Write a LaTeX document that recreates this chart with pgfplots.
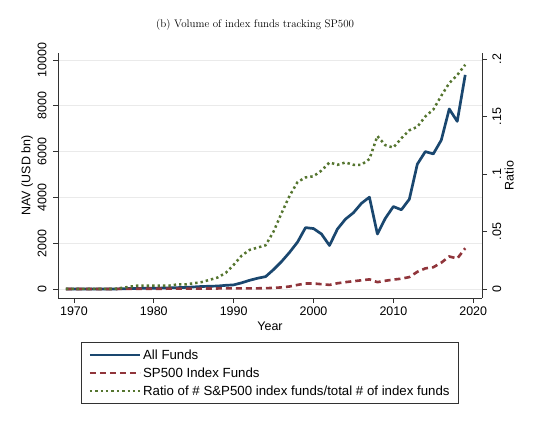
\documentclass[border=0pt]{standalone}
\usepackage{fontspec}
\usepackage{pgfplots}
\usepackage{pgfplotstable}
\pgfplotsset{compat=1.18}
\newfontfamily\arial{Liberation Sans}
\definecolor{snavy}{RGB}{26,71,111}
\definecolor{smaroon}{RGB}{144,53,59}
\definecolor{sgreen}{RGB}{85,117,47}
\definecolor{sgrid}{RGB}{234,234,234}
\definecolor{saxis}{RGB}{50,50,50}

\pgfplotstableread{
year all sp ratio
1969 0 0 0
1970 0 0 0
1971 0 0 0
1972 0 0 0
1973 0 0 0
1974 0 0 0
1975 0 0 0
1976 10 5 0.001
1977 20 8 0.002
1978 25 10 0.003
1979 30 10 0.003
1980 35 12 0.003
1981 40 12 0.003
1982 50 14 0.003
1983 60 15 0.004
1984 70 16 0.004
1985 90 18 0.005
1986 110 20 0.006
1987 120 22 0.008
1988 130 24 0.010
1989 160 25 0.014
1990 180 25 0.021
1991 270 28 0.029
1992 380 30 0.034
1993 470 30 0.036
1994 540 35 0.038
1995 850 50 0.050
1996 1200 70 0.066
1997 1600 110 0.081
1998 2050 180 0.093
1999 2680 240 0.097
2000 2640 240 0.098
2001 2400 210 0.103
2002 1900 180 0.110
2003 2620 250 0.108
2004 3050 300 0.110
2005 3330 340 0.108
2006 3740 380 0.108
2007 4010 420 0.113
2008 2400 300 0.133
2009 3090 360 0.125
2010 3600 410 0.123
2011 3460 450 0.131
2012 3920 520 0.138
2013 5450 750 0.141
2014 6000 900 0.150
2015 5900 950 0.156
2016 6500 1150 0.168
2017 7860 1420 0.179
2018 7320 1330 0.186
2019 9350 1780 0.195
}\data

\pgfplotsset{
  common/.style={
    at={(58bp,136bp)}, anchor=south west,
    scale only axis, width=424bp, height=245bp,
    xmin=1968, xmax=2021.1,
    axis line style={-, saxis, line width=0.8bp},
    tick align=outside, major tick length=5bp,
    tick style={saxis, line width=0.8bp},
    minor tick num=0,
    scaled ticks=false,
    font=\fontsize{12.5}{15}\arial,
    /pgf/number format/assume math mode=true,
    /pgf/number format/1000 sep={},
  }
}

\begin{document}
\begin{tikzpicture}
\useasboundingbox (0,0) rectangle (560bp,434bp);
\begin{axis}[
  common,
  ymin=-393, ymax=10306,
  axis lines*=left,
  xtick={1970,1980,...,2020},
  ytick={0,2000,...,10000},
  ymajorgrids, grid style={sgrid, line width=0.8bp},
  yticklabel style={rotate=90, anchor=south},
  yticklabel shift=3bp,
  every axis y label/.style={at={(axis description cs:-0.073,0.5)}, rotate=90, anchor=center},
  every axis x label/.style={at={(axis description cs:0.5,-0.114)}, anchor=center},
  xlabel=Year, ylabel={NAV (USD bn)},
  title={(b) Volume of index funds tracking SP500},
  every axis title/.style={at={(axis description cs:0.465,1.114)}, anchor=center, font=\fontsize{11}{13}\selectfont\rmfamily},
  legend style={at={(axis description cs:0.5,-0.18)}, anchor=north, draw=saxis, line width=0.8bp,
    font=\fontsize{13.3}{16}\arial, inner xsep=7bp, inner ysep=5bp, row sep=3bp},
  legend cell align=left,
  legend image code/.code={\draw[#1] (0bp,0bp) -- (50bp,0bp);},
]
\addplot[snavy, line width=2.7bp, line join=round] table[x=year, y=all] {\data};
\addplot[smaroon, line width=2.6bp, dash pattern=on 6bp off 4bp] table[x=year, y=sp] {\data};
\addlegendimage{sgreen, line width=2.5bp, dash pattern=on 2.4bp off 3bp}
\legend{All Funds, SP500 Index Funds, Ratio of \# S\&P500 index funds/total \# of index funds}
\end{axis}
\begin{axis}[
  common,
  ymin=-0.00783, ymax=0.2052,
  axis x line=none, axis y line*=right,
  ytick={0,0.05,0.1,0.15,0.2},
  yticklabels={0,.05,.1,.15,.2},
  yticklabel style={rotate=90, anchor=north},
  yticklabel shift=2bp,
  every axis y label/.style={at={(axis description cs:1.064,0.5)}, rotate=90, anchor=center},
  ylabel=Ratio,
]
\addplot[sgreen, line width=2.5bp, dash pattern=on 2.4bp off 3bp] table[x=year, y=ratio] {\data};
\end{axis}
\end{tikzpicture}
\end{document}
